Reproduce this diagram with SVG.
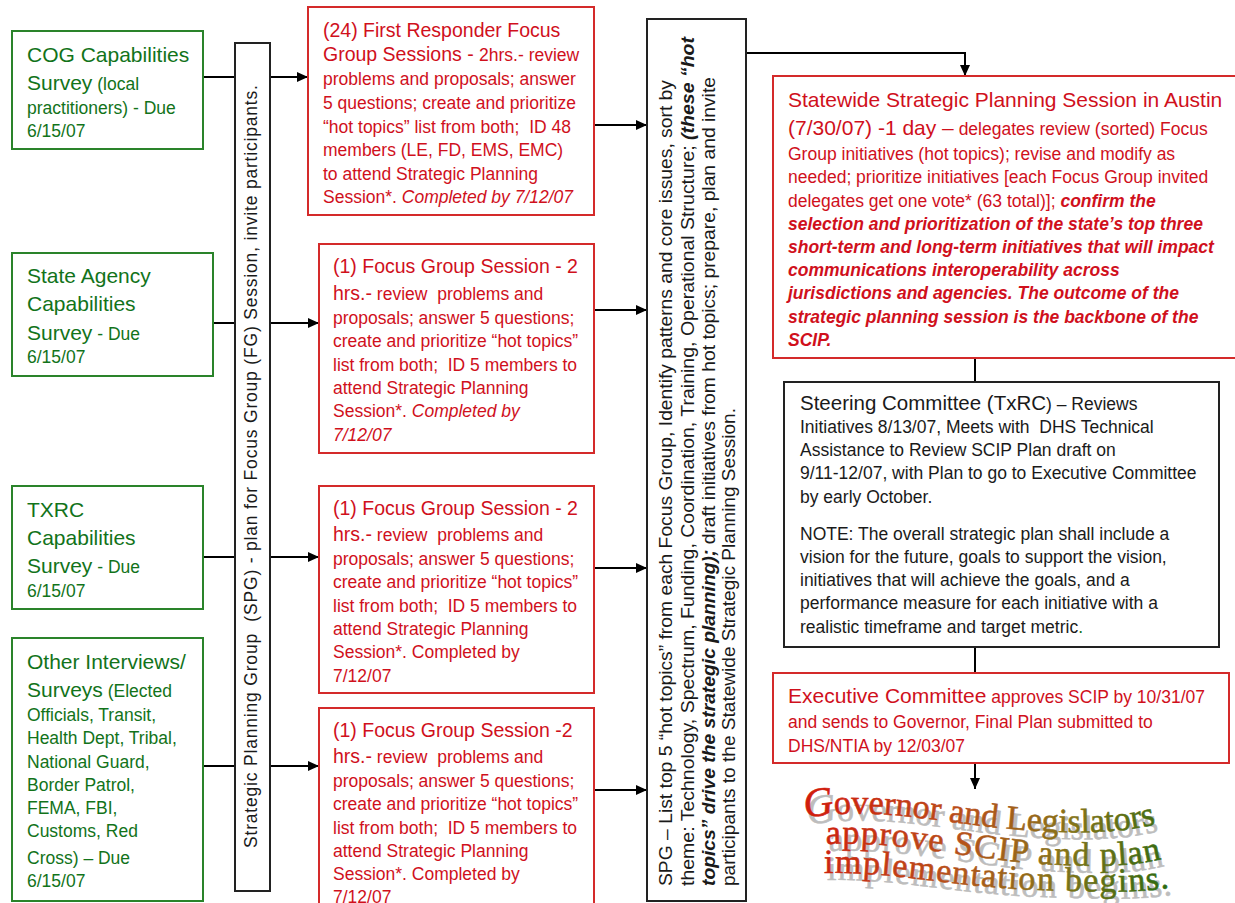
<svg xmlns="http://www.w3.org/2000/svg" width="1235" height="903" viewBox="0 0 1235 903">
  <defs>
    <marker id="arrow" markerUnits="userSpaceOnUse" markerWidth="11" markerHeight="10" refX="11" refY="5" orient="auto">
      <path d="M0,0 L11,5 L0,10 z" fill="#000"/>
    </marker>
    <linearGradient id="artFill" gradientUnits="userSpaceOnUse" x1="820" y1="800" x2="1160" y2="900">
      <stop offset="0" stop-color="#d01e0c"/>
      <stop offset="0.4" stop-color="#b8501a"/>
      <stop offset="0.7" stop-color="#857418"/>
      <stop offset="1" stop-color="#2f6a10"/>
    </linearGradient>
    <path id="wave1" d="M805,818 C870,806 940,822 1000,828 S1120,836 1172,820"/>
    <path id="wave2" d="M826,844 C900,840 980,862 1060,865 S1140,862 1180,856"/>
    <path id="wave3" d="M824,873 C900,872 960,888 1040,890 S1140,894 1190,884"/>
    <style>
      text { font-family: "Liberation Sans", Arial, sans-serif; }
      .gbox { fill: #fff; stroke: #2a832a; stroke-width: 2; }
      .rbox { fill: #fff; stroke: #d42a2a; stroke-width: 2; }
      .kbox { fill: #fff; stroke: #222; stroke-width: 2; }
      .g { fill: #12731a; font-size: 17.5px; }
      .r { fill: #d0101c; font-size: 17.5px; }
      .k { fill: #1a1a1a; font-size: 17.5px; }
      .big { font-size: 21px; }
      .rbig { font-size: 19.5px; }
      .it { font-style: italic; }
      .bi { font-style: italic; font-weight: bold; }
      .conn { stroke: #000; stroke-width: 2; fill: none; }
      .art { font-family: "Liberation Serif", "Times New Roman", serif; font-weight: normal; font-size: 34px; }
    </style>
  </defs>

  <!-- connectors -->
  <g id="connectors">
    <line class="conn" x1="203" y1="77" x2="235" y2="77"/>
    <line class="conn" x1="213" y1="323" x2="235" y2="323"/>
    <line class="conn" x1="203" y1="557" x2="235" y2="557"/>
    <line class="conn" x1="203" y1="766" x2="235" y2="766"/>
    <line class="conn" x1="270" y1="77" x2="308" y2="77" marker-end="url(#arrow)"/>
    <line class="conn" x1="270" y1="323" x2="319" y2="323" marker-end="url(#arrow)"/>
    <line class="conn" x1="270" y1="557" x2="319" y2="557" marker-end="url(#arrow)"/>
    <line class="conn" x1="270" y1="766" x2="319" y2="766" marker-end="url(#arrow)"/>
    <line class="conn" x1="594" y1="125" x2="647" y2="125" marker-end="url(#arrow)"/>
    <line class="conn" x1="594" y1="310" x2="647" y2="310" marker-end="url(#arrow)"/>
    <line class="conn" x1="594" y1="568" x2="647" y2="568" marker-end="url(#arrow)"/>
    <line class="conn" x1="594" y1="790" x2="647" y2="790" marker-end="url(#arrow)"/>
    <polyline class="conn" points="746,53 965,53 965,76" marker-end="url(#arrow)"/>
    <line class="conn" x1="975" y1="358" x2="975" y2="382"/>
    <line class="conn" x1="975" y1="647" x2="975" y2="673"/>
    <line class="conn" x1="975" y1="763" x2="975" y2="789" marker-end="url(#arrow)"/>
  </g>

  <!-- survey inputs -->
  <g id="cog-survey">
    <rect class="gbox" x="12" y="31" width="191" height="118"/>
    <text class="g" x="27" y="62"><tspan class="big">COG Capabilities</tspan></text>
    <text class="g" x="27" y="90"><tspan class="big">Survey</tspan> (local</text>
    <text class="g" x="27" y="114">practitioners) - Due</text>
    <text class="g" x="27" y="137">6/15/07</text>
  </g>
  <g id="state-agency-survey">
    <rect class="gbox" x="12" y="253" width="201" height="123"/>
    <text class="g big" x="27" y="283">State Agency</text>
    <text class="g big" x="27" y="311">Capabilities</text>
    <text class="g" x="27" y="340"><tspan class="big">Survey</tspan> - Due</text>
    <text class="g" x="27" y="363">6/15/07</text>
  </g>
  <g id="txrc-survey">
    <rect class="gbox" x="12" y="486" width="191" height="123"/>
    <text class="g big" x="27" y="517">TXRC</text>
    <text class="g big" x="27" y="545">Capabilities</text>
    <text class="g" x="27" y="573"><tspan class="big">Survey</tspan> - Due</text>
    <text class="g" x="27" y="597">6/15/07</text>
  </g>
  <g id="other-surveys">
    <rect class="gbox" x="12" y="638" width="191" height="263"/>
    <text class="g big" x="27" y="669">Other Interviews/</text>
    <text class="g" x="27" y="697"><tspan class="big">Surveys</tspan> (Elected</text>
    <text class="g" x="27" y="721">Officials, Transit,</text>
    <text class="g" x="27" y="744">Health Dept, Tribal,</text>
    <text class="g" x="27" y="768">National Guard,</text>
    <text class="g" x="27" y="791">Border Patrol,</text>
    <text class="g" x="27" y="814">FEMA, FBI,</text>
    <text class="g" x="27" y="837">Customs, Red</text>
    <text class="g" x="27" y="864">Cross) – Due</text>
    <text class="g" x="27" y="887">6/15/07</text>
  </g>

  <!-- planning group column -->
  <g id="spg-plan">
    <rect class="kbox" x="235" y="43" width="35" height="848"/>
    <text class="k" transform="translate(257,848) rotate(-90)" x="0" y="0" font-size="18" textLength="763" lengthAdjust="spacing">Strategic Planning Group &#160;(SPG) - plan for Focus Group (FG) Session, invite participants.</text>
  </g>

  <!-- focus group sessions -->
  <g id="first-responder-fg">
    <rect class="rbox" x="308" y="7" width="286" height="208"/>
    <text class="r rbig" x="323" y="37">(24) First Responder Focus</text>
    <text class="r" x="323" y="61"><tspan class="rbig">Group Sessions - </tspan>2hrs.- review</text>
    <text class="r" x="323" y="85">problems and proposals; answer</text>
    <text class="r" x="323" y="109">5 questions; create and prioritize</text>
    <text class="r" x="323" y="133">“hot topics” list from both; &#160;ID 48</text>
    <text class="r" x="323" y="156">members (LE, FD, EMS, EMC)</text>
    <text class="r" x="323" y="180">to attend Strategic Planning</text>
    <text class="r" x="323" y="203">Session*. <tspan class="it">Completed by 7/12/07</tspan></text>
  </g>
  <g id="fg-session-2">
    <rect class="rbox" x="319" y="244" width="275" height="209"/>
    <text class="r rbig" x="333" y="273">(1) Focus Group Session - 2</text>
    <text class="r" x="333" y="300"><tspan class="rbig">hrs.-</tspan> review &#160;problems and</text>
    <text class="r" x="333" y="324">proposals; answer 5 questions;</text>
    <text class="r" x="333" y="347">create and prioritize “hot topics”</text>
    <text class="r" x="333" y="371">list from both; &#160;ID 5 members to</text>
    <text class="r" x="333" y="394">attend Strategic Planning</text>
    <text class="r" x="333" y="417">Session*. <tspan class="it">Completed by</tspan></text>
    <text class="r it" x="333" y="441">7/12/07</text>
  </g>
  <g id="fg-session-3">
    <rect class="rbox" x="319" y="486" width="275" height="207"/>
    <text class="r rbig" x="333" y="515">(1) Focus Group Session - 2</text>
    <text class="r" x="333" y="541"><tspan class="rbig">hrs.-</tspan> review &#160;problems and</text>
    <text class="r" x="333" y="565">proposals; answer 5 questions;</text>
    <text class="r" x="333" y="588">create and prioritize “hot topics”</text>
    <text class="r" x="333" y="612">list from both; &#160;ID 5 members to</text>
    <text class="r" x="333" y="635">attend Strategic Planning</text>
    <text class="r" x="333" y="658">Session*. Completed by</text>
    <text class="r" x="333" y="682">7/12/07</text>
  </g>
  <g id="fg-session-4">
    <rect class="rbox" x="319" y="708" width="275" height="210"/>
    <text class="r rbig" x="333" y="737">(1) Focus Group Session -2</text>
    <text class="r" x="333" y="763"><tspan class="rbig">hrs.-</tspan> review &#160;problems and</text>
    <text class="r" x="333" y="787">proposals; answer 5 questions;</text>
    <text class="r" x="333" y="810">create and prioritize “hot topics”</text>
    <text class="r" x="333" y="834">list from both; &#160;ID 5 members to</text>
    <text class="r" x="333" y="857">attend Strategic Planning</text>
    <text class="r" x="333" y="880">Session*. Completed by</text>
    <text class="r" x="333" y="903">7/12/07</text>
  </g>

  <!-- planning group sorting column -->
  <g id="spg-sort">
    <rect class="kbox" x="647" y="19" width="99" height="882"/>
    <g transform="translate(672,886) rotate(-90)">
      <text class="k" x="0" y="0" font-size="20" textLength="806" lengthAdjust="spacingAndGlyphs">SPG – List top 5 “hot topics” from each Focus Group, Identify patterns and core issues, sort by</text>
      <text class="k" x="0" y="21.5" font-size="20" textLength="849" lengthAdjust="spacingAndGlyphs">theme: Technology, Spectrum, Funding, Coordination, Training, Operational Structure; <tspan class="bi">(these “hot</tspan></text>
      <text class="k" x="0" y="42.5" font-size="20" textLength="809" lengthAdjust="spacingAndGlyphs"><tspan class="bi">topics” drive the strategic planning);</tspan> draft initiatives from hot topics; prepare, plan and invite</text>
      <text class="k" x="0" y="63" font-size="20" textLength="478" lengthAdjust="spacingAndGlyphs">participants to the Statewide Strategic Planning Session.</text>
    </g>
  </g>

  <!-- statewide session -->
  <g id="statewide-session">
    <rect class="rbox" x="773" y="76" width="470" height="282"/>
    <text class="r big" x="788" y="107">Statewide Strategic Planning Session in Austin</text>
    <text class="r" x="788" y="135"><tspan class="big">(7/30/07) -1 day –</tspan> delegates review (sorted) Focus</text>
    <text class="r" x="788" y="160">Group initiatives (hot topics); revise and modify as</text>
    <text class="r" x="788" y="183">needed; prioritize initiatives [each Focus Group invited</text>
    <text class="r" x="788" y="207">delegates get one vote* (63 total)]; <tspan class="bi">confirm the</tspan></text>
    <text class="r bi" x="788" y="230">selection and prioritization of the state’s top three</text>
    <text class="r bi" x="788" y="253">short-term and long-term initiatives that will impact</text>
    <text class="r bi" x="788" y="276">communications interoperability across</text>
    <text class="r bi" x="788" y="299">jurisdictions and agencies. The outcome of the</text>
    <text class="r bi" x="788" y="323">strategic planning session is the backbone of the</text>
    <text class="r bi" x="788" y="346">SCIP.</text>
  </g>

  <!-- steering committee -->
  <g id="steering-committee">
    <rect class="kbox" x="784" y="382" width="435" height="265"/>
    <text class="k" x="800" y="410"><tspan font-size="20.5px">Steering Committee (TxRC</tspan>) – Reviews</text>
    <text class="k" x="800" y="433">Initiatives 8/13/07, Meets with &#160;DHS Technical</text>
    <text class="k" x="800" y="456">Assistance to Review SCIP Plan draft on</text>
    <text class="k" x="800" y="479">9/11-12/07, with Plan to go to Executive Committee</text>
    <text class="k" x="800" y="503">by early October.</text>
    <text class="k" x="800" y="540">NOTE: The overall strategic plan shall include a</text>
    <text class="k" x="800" y="563">vision for the future, goals to support the vision,</text>
    <text class="k" x="800" y="586">initiatives that will achieve the goals, and a</text>
    <text class="k" x="800" y="609">performance measure for each initiative with a</text>
    <text class="k" x="800" y="633">realistic timeframe and target metric<tspan fill="#15781a">.</tspan></text>
  </g>

  <!-- executive committee -->
  <g id="executive-committee">
    <rect class="rbox" x="773" y="673" width="456" height="90"/>
    <text class="r" x="788" y="703"><tspan class="big">Executive Committee</tspan> approves SCIP by 10/31/07</text>
    <text class="r" x="788" y="728">and sends to Governor, Final Plan submitted to</text>
    <text class="r" x="788" y="752">DHS/NTIA by 12/03/07</text>
  </g>

  <!-- closing banner: wavy lettering with a grey drop shadow -->
  <g id="governor-approval">
    <g fill="#bdbdbd" stroke="#bdbdbd" stroke-width="0.6" transform="translate(3,7)">
      <text class="art"><textPath href="#wave1"><tspan font-size="41" font-style="italic">G</tspan>overnor and Legislators</textPath></text>
      <text class="art" letter-spacing="1.2"><textPath href="#wave2">approve SCIP and plan</textPath></text>
      <text class="art" letter-spacing="1.3"><textPath href="#wave3">implementation begins.</textPath></text>
    </g>
    <g fill="url(#artFill)" stroke="url(#artFill)" stroke-width="0.6">
      <text class="art"><textPath href="#wave1"><tspan font-size="41" font-style="italic">G</tspan>overnor and Legislators</textPath></text>
      <text class="art" letter-spacing="1.2"><textPath href="#wave2">approve SCIP and plan</textPath></text>
      <text class="art" letter-spacing="1.3"><textPath href="#wave3">implementation begins.</textPath></text>
    </g>
  </g>
</svg>
